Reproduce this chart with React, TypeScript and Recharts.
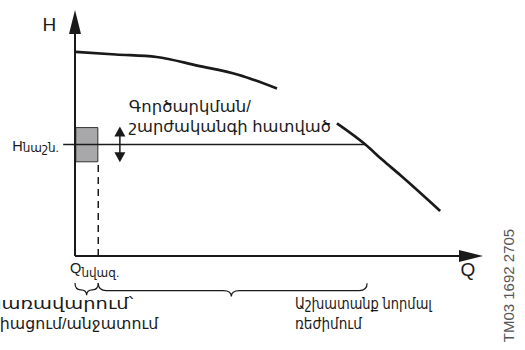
import React from 'react';
import { ComposedChart, Line, XAxis, YAxis, ReferenceLine, ReferenceArea, ReferenceDot } from 'recharts';

// Pump curve (flow Q vs head H), relative units; null = curve hidden behind the label
const flowQ = [0, 10, 20, 30, 40, 49.5, 56, 64.2, 71.1, 75.4, 79.7, 89.5];
const headH: (number | null)[] = [83.0, 81.9, 80.9, 77.4, 73.7, 68.1, null, 53.9, 45.4, 39.0, 32.9, 18.3];

// Setpoint / start-stop band
const setpointH = 45.3;
const setpointLineQ = [-2.9, 71.1];
const minFlowQ = 5.7;
const bandQ = [0.2, 5.6];
const bandH = [38.3, 52.2];
const arrowQ = 11;
const arrowH = [38.1, 52.6];

// Texts
const axisLabelH = 'H';
const axisLabelQ = 'Q';
const setpointMain = 'H';
const setpointSub = 'նաշն.';
const minFlowMain = 'Q';
const minFlowSub = 'նվազ.';
const bandLabel = ['Գործարկման/', 'շարժականգի հատված'];
const startStopLabel = ['Կառավարում՝', 'Միացում/անջատում'];
const normalLabel = ['Աշխատանք նորմալ', 'ռեժիմում'];
const codeLabel = 'TM03 1692 2705';

const data = flowQ.map((q, i) => ({ q, h: headH[i] }));

const INK = '#1a1a1a';
const FONT = '"Liberation Sans", Arial, "DejaVu Sans", sans-serif';

type P = { cx?: number; cy?: number };

const braceShape = (tipRatio: number) => (p: any) => {
  const { x, y, width: w, height: h } = p;
  const mid = x + w * tipRatio;
  const r = Math.min(w / 4, 8);
  const ym = y + h * 0.55;
  const d = `M${x},${y} Q${x},${ym} ${x + r},${ym} L${mid - r},${ym} Q${mid},${ym} ${mid},${y + h} Q${mid},${ym} ${mid + r},${ym} L${x + w - r},${ym} Q${x + w},${ym} ${x + w},${y}`;
  return <path d={d} fill="none" stroke={INK} strokeWidth={1.2} />;
};

const note = (key: string, x: number, y: number, render: (cx: number, cy: number) => React.ReactElement) => (
  <ReferenceDot key={key} x={x} y={y} r={0} ifOverflow="visible" isFront shape={(p: P) => render(p.cx ?? 0, p.cy ?? 0)} />
);

const twoLines = (lines: string[], size: number, gap: number, lengths: number[]) => (cx: number, cy: number) => (
  <g>
    <text x={cx} y={cy} fontSize={size} fontFamily={FONT} fill={INK} textLength={lengths[0]} lengthAdjust="spacingAndGlyphs">{lines[0]}</text>
    <text x={cx} y={cy + gap} fontSize={size} fontFamily={FONT} fill={INK} textLength={lengths[1]} lengthAdjust="spacingAndGlyphs">{lines[1]}</text>
  </g>
);

export default function App() {
  return (
    <div style={{ position: 'absolute', left: 0, top: 0, width: 525, height: 350, background: '#fff' }}>
      <ComposedChart width={525} height={350} data={data} margin={{ left: 75, right: 42, top: 10, bottom: 94 }}>
        <XAxis type="number" dataKey="q" domain={[0, 100]} hide allowDataOverflow />
        <YAxis type="number" domain={[0, 100]} hide allowDataOverflow />

        {/* start/stop band */}
        <ReferenceArea x1={bandQ[0]} x2={bandQ[1]} y1={bandH[0]} y2={bandH[1]} ifOverflow="visible"
          fill="#a8a8aa" fillOpacity={1} stroke="#333" strokeWidth={1} />

        {/* axes */}
        <ReferenceLine segment={[{ x: 0, y: 0 }, { x: 96, y: 0 }]} stroke={INK} strokeWidth={2} ifOverflow="visible" />
        <ReferenceLine segment={[{ x: 0, y: 0 }, { x: 0, y: 95 }]} stroke={INK} strokeWidth={2} ifOverflow="visible" />

        {/* setpoint line */}
        <ReferenceLine segment={[{ x: setpointLineQ[0], y: setpointH }, { x: setpointLineQ[1], y: setpointH }]} stroke={INK} strokeWidth={1.5} ifOverflow="visible" />

        {/* min flow dashed line */}
        <ReferenceLine segment={[{ x: minFlowQ, y: 0 }, { x: minFlowQ, y: bandH[0] }]} stroke={INK} strokeWidth={1.5} strokeDasharray="7 5" ifOverflow="visible" />

        {/* double arrow */}
        <ReferenceLine segment={[{ x: arrowQ, y: arrowH[0] + 3 }, { x: arrowQ, y: arrowH[1] - 3 }]} stroke={INK} strokeWidth={1.5} ifOverflow="visible" />
        {note('au', arrowQ, arrowH[1], (cx, cy) => <path d={`M${cx},${cy} L${cx - 5.5},${cy + 10} L${cx + 5.5},${cy + 10} Z`} fill={INK} />)}
        {note('ad', arrowQ, arrowH[0], (cx, cy) => <path d={`M${cx},${cy} L${cx - 5.5},${cy - 10} L${cx + 5.5},${cy - 10} Z`} fill={INK} />)}

        <Line type="monotone" dataKey="h" stroke={INK} strokeWidth={2.7} dot={false} isAnimationActive={false} connectNulls={false} />

        {/* axis arrow heads */}
        {note('ax', 100, 0, (cx, cy) => <path d={`M${cx},${cy} L${cx - 24},${cy - 6} L${cx - 24},${cy + 6} Z`} fill={INK} />)}
        {note('ay', 0, 100, (cx, cy) => <path d={`M${cx},${cy} L${cx - 6},${cy + 24} L${cx + 6},${cy + 24} Z`} fill={INK} />)}

        {/* braces */}
        <ReferenceArea x1={0} x2={minFlowQ} y1={-11} y2={-16} ifOverflow="visible" shape={braceShape(0.5)} />
        <ReferenceArea x1={minFlowQ} x2={71.6} y1={-11.1} y2={-16.5} ifOverflow="visible" shape={braceShape(0.495)} />

        {/* texts */}
        {note('tH', -4.6, 91.5, (cx, cy) => <text x={cx} y={cy} textAnchor="end" fontSize={19} fontFamily={FONT} fill={INK}>{axisLabelH}</text>)}
        {note('tQ', 96.3, -8.3, (cx, cy) => <text x={cx} y={cy} textAnchor="middle" fontSize={19} fontFamily={FONT} fill={INK}>{axisLabelQ}</text>)}
        {note('tHs', -15.4, 42.7, (cx, cy) => (
          <text x={cx} y={cy} fontFamily={FONT} fill={INK}>
            <tspan fontSize={14.5}>{setpointMain}</tspan><tspan fontSize={12} dy={1}>{setpointSub}</tspan>
          </text>
        ))}
        {note('tQs', -1.2, -7.1, (cx, cy) => (
          <text x={cx} y={cy} fontFamily={FONT} fill={INK}>
            <tspan fontSize={14.5}>{minFlowMain}</tspan><tspan fontSize={12} dy={4}>{minFlowSub}</tspan>
          </text>
        ))}
        {note('tb', 13.2, 58.7, twoLines(bandLabel, 16, 20, [122, 202]))}
        {note('tl', -21.5, -21.5, twoLines(startStopLabel, 15.5, 20, [146, 171]))}
        {note('tn', 53.9, -21.5, twoLines(normalLabel, 15.5, 20, [137, 67]))}
        {note('tc', 107.5, -12, (cx, cy) => (
          <text x={cx} y={cy} transform={`rotate(-90 ${cx} ${cy})`} textAnchor="middle" fontSize={15} fontFamily={FONT} fill="#555">{codeLabel}</text>
        ))}
      </ComposedChart>
    </div>
  );
}
